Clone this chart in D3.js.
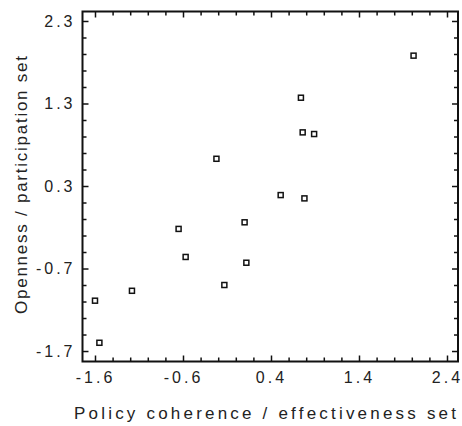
<!DOCTYPE html>
<html>
<head>
<meta charset="utf-8">
<script src="https://cdn.jsdelivr.net/npm/d3@7"></script>
<style>
  body { margin: 0; background: #fff; }
  text { font-family: "Liberation Sans", Arial, sans-serif; fill: #222; }
</style>
</head>
<body>
<div id="main"></div>
<script>

// data
var xValues = [2.02, 0.74, 0.76, 0.89, -0.22, 0.51, 0.78, 0.10, -0.65, -0.57, 0.12, -0.13, -1.18, -1.60, -1.55];
var yValues = [1.88, 1.37, 0.95, 0.93, 0.63, 0.19, 0.15, -0.14, -0.22, -0.56, -0.63, -0.90, -0.97, -1.09, -1.60];
var xTicks = [-1.6, -0.6, 0.4, 1.4, 2.4];
var yTicks = [-1.7, -0.7, 0.3, 1.3, 2.3];
var xTitle = "Policy coherence / effectiveness set";
var yTitle = "Openness / participation set";

var WIDTH = 462, HEIGHT = 426;
var plot = {left: 82.5, top: 11.5, right: 458, bottom: 361.5};

var x = d3.scaleLinear().domain([-1.742, 2.525]).range([plot.left, plot.right]);
var y = d3.scaleLinear().domain([-1.827, 2.415]).range([plot.bottom, plot.top]);

function minorTicks(major) {
	var out = [];
	for (var i = 0; i < major.length - 1; i++) {
		for (var k = 1; k < 5; k++) out.push(+(major[i] + k * 0.2).toFixed(2));
	}
	return out;
}

var svg = d3.select("#main").append("svg")
	.attr("width", WIDTH)
	.attr("height", HEIGHT);

function fmt(d) { return d.toFixed(1); }

function styleAxis(g) {
	g.select(".domain").remove();
	g.selectAll("line").attr("stroke", "#111").attr("stroke-width", 1.5);
	g.selectAll("text")
		.style("font-size", "16px")
		.style("letter-spacing", "3px")
		.attr("fill", "#222");
}

// bottom
svg.append("g")
	.attr("transform", "translate(0," + plot.bottom + ")")
	.call(d3.axisBottom(x).tickValues(xTicks).tickFormat(fmt).tickSize(-6).tickPadding(10))
	.call(styleAxis);
svg.append("g")
	.attr("transform", "translate(0," + plot.bottom + ")")
	.call(d3.axisBottom(x).tickValues(minorTicks(xTicks)).tickFormat("").tickSize(-4))
	.call(styleAxis);
// top
svg.append("g")
	.attr("transform", "translate(0," + plot.top + ")")
	.call(d3.axisTop(x).tickValues(xTicks).tickFormat("").tickSize(-6))
	.call(styleAxis);
svg.append("g")
	.attr("transform", "translate(0," + plot.top + ")")
	.call(d3.axisTop(x).tickValues(minorTicks(xTicks)).tickFormat("").tickSize(-4))
	.call(styleAxis);
// left
svg.append("g")
	.attr("transform", "translate(" + plot.left + ",0)")
	.call(d3.axisLeft(y).tickValues(yTicks).tickFormat(fmt).tickSize(-6).tickPadding(7))
	.call(styleAxis);
svg.append("g")
	.attr("transform", "translate(" + plot.left + ",0)")
	.call(d3.axisLeft(y).tickValues(minorTicks(yTicks)).tickFormat("").tickSize(-4))
	.call(styleAxis);
// right
svg.append("g")
	.attr("transform", "translate(" + plot.right + ",0)")
	.call(d3.axisRight(y).tickValues(yTicks).tickFormat("").tickSize(-6))
	.call(styleAxis);
svg.append("g")
	.attr("transform", "translate(" + plot.right + ",0)")
	.call(d3.axisRight(y).tickValues(minorTicks(yTicks)).tickFormat("").tickSize(-4))
	.call(styleAxis);

// frame
svg.append("rect")
	.attr("x", plot.left)
	.attr("y", plot.top)
	.attr("width", plot.right - plot.left)
	.attr("height", plot.bottom - plot.top)
	.attr("fill", "none")
	.attr("stroke", "#111")
	.attr("stroke-width", 2);

// points
svg.append("g").selectAll("rect")
	.data(xValues.map(function(d, i) { return [d, yValues[i]]; }))
	.enter().append("rect")
		.attr("x", function(d) { return x(d[0]) - 2.5; })
		.attr("y", function(d) { return y(d[1]) - 2.5; })
		.attr("width", 5)
		.attr("height", 5)
		.attr("fill", "#fff")
		.attr("stroke", "#111")
		.attr("stroke-width", 1.5);

// titles
svg.append("text")
	.attr("x", 265)
	.attr("y", 419)
	.attr("text-anchor", "middle")
	.attr("textLength", 382)
	.attr("lengthAdjust", "spacing")
	.style("font-size", "17px")
	.text(xTitle);

svg.append("text")
	.attr("transform", "translate(27," + 185 + ") rotate(-90)")
	.attr("text-anchor", "middle")
	.attr("textLength", 258)
	.attr("lengthAdjust", "spacing")
	.style("font-size", "17px")
	.text(yTitle);

</script>
</body>
</html>
